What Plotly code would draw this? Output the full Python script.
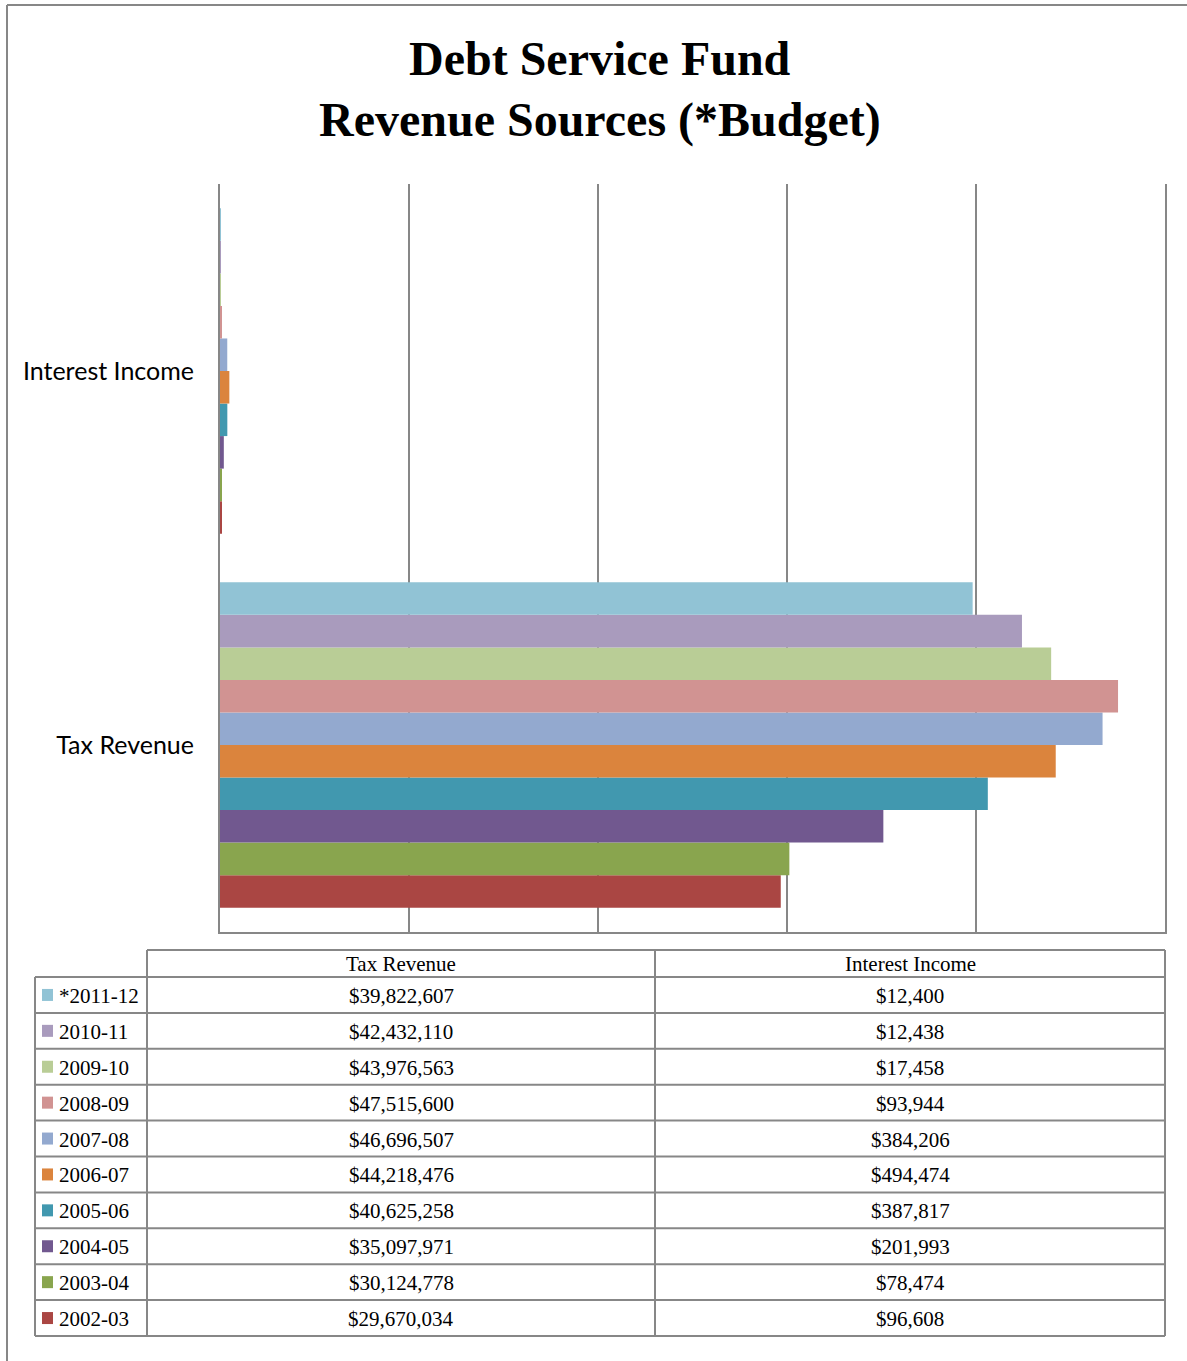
import plotly.graph_objects as go

# ---- data -------------------------------------------------------------
periods = ["2002-03", "2003-04", "2004-05", "2005-06", "2006-07",
           "2007-08", "2008-09", "2009-10", "2010-11", "*2011-12"]
tax_revenue = [29670034, 30124778, 35097971, 40625258, 44218476,
               46696507, 47515600, 43976563, 42432110, 39822607]
interest_income = [96608, 78474, 201993, 387817, 494474,
                   384206, 93944, 17458, 12438, 12400]
categories = ["Tax Revenue", "Interest Income"]
colors = ["#AA4643", "#89A54E", "#71588F", "#4198AF", "#DB843D",
          "#93A9CF", "#D19392", "#B9CD96", "#A99BBD", "#91C3D5"]

# ---- canvas helpers (pixel -> paper) ---------------------------------
W, H = 1187, 1361
def px(x):
    return x / W
def py(y):
    return 1 - y / H

GRID = "#878787"
SERIF = "Liberation Serif, Times New Roman, serif"
SANS = "Lato, Calibri, Carlito, sans-serif"

fig = go.Figure()
for name, t, i, c in zip(periods, tax_revenue, interest_income, colors):
    fig.add_trace(go.Bar(
        y=categories, x=[t, i], name=name, orientation="h",
        marker=dict(color=c, line=dict(width=0)),
        showlegend=False,
    ))

shapes = []
annotations = []

# outer chart border (left and top edges visible)
shapes.append(dict(type="line", xref="paper", yref="paper",
                   x0=px(7), x1=px(1190), y0=py(5), y1=py(5),
                   line=dict(color=GRID, width=2)))
shapes.append(dict(type="line", xref="paper", yref="paper",
                   x0=px(7), x1=px(7), y0=py(5), y1=py(1365),
                   line=dict(color=GRID, width=2)))

# title
annotations.append(dict(text="<b>Debt Service Fund</b>", xref="paper", yref="paper",
                        x=px(600), y=py(58), xanchor="center", yanchor="middle",
                        showarrow=False, font=dict(family=SERIF, size=48, color="black")))
annotations.append(dict(text="<b>Revenue Sources (*Budget)</b>", xref="paper", yref="paper",
                        x=px(600), y=py(120), xanchor="center", yanchor="middle",
                        showarrow=False, font=dict(family=SERIF, size=48, color="black")))

# ---- data table -------------------------------------------------------
tbl_left, col1, col2, tbl_right = 35, 147, 655, 1165
hdr_top, hdr_bot = 950, 977
row_h = (1336 - 977) / 10
line = dict(color=GRID, width=2)

shapes.append(dict(type="line", xref="paper", yref="paper",
                   x0=px(col1), x1=px(tbl_right), y0=py(hdr_top), y1=py(hdr_top), line=line))
for k in range(11):
    yy = hdr_bot + k * row_h
    shapes.append(dict(type="line", xref="paper", yref="paper",
                       x0=px(tbl_left), x1=px(tbl_right), y0=py(yy), y1=py(yy), line=line))
table_bottom = hdr_bot + 10 * row_h
shapes.append(dict(type="line", xref="paper", yref="paper",
                   x0=px(tbl_left), x1=px(tbl_left), y0=py(hdr_bot), y1=py(table_bottom), line=line))
for xx in (col1, col2, tbl_right):
    shapes.append(dict(type="line", xref="paper", yref="paper",
                       x0=px(xx), x1=px(xx), y0=py(hdr_top), y1=py(table_bottom), line=line))

tfont = dict(family=SERIF, size=21, color="black")
col_centers = [(col1 + col2) / 2, (col2 + tbl_right) / 2]
for cat, cx in zip(["Tax Revenue", "Interest Income"], col_centers):
    annotations.append(dict(text=cat, xref="paper", yref="paper", x=px(cx),
                            y=py((hdr_top + hdr_bot) / 2 + 1), xanchor="center",
                            yanchor="middle", showarrow=False, font=tfont))

# rows listed newest first
for r, idx in enumerate(reversed(range(len(periods)))):
    cy = hdr_bot + (r + 0.5) * row_h
    shapes.append(dict(type="rect", xref="paper", yref="paper",
                       x0=px(42), x1=px(53), y0=py(cy - 6), y1=py(cy + 6),
                       fillcolor=colors[idx], line=dict(width=0)))
    annotations.append(dict(text=periods[idx], xref="paper", yref="paper",
                            x=px(57), y=py(cy + 1), xanchor="left", yanchor="middle",
                            showarrow=False, font=tfont))
    for val, cx in zip([tax_revenue[idx], interest_income[idx]], col_centers):
        annotations.append(dict(text=f"${val:,}", xref="paper", yref="paper",
                                x=px(cx), y=py(cy + 1), xanchor="center",
                                yanchor="middle", showarrow=False, font=tfont))

fig.update_layout(
    width=W, height=H,
    margin=dict(l=0, r=0, t=0, b=0),
    paper_bgcolor="white", plot_bgcolor="white",
    barmode="group", bargap=0.13, bargroupgap=0,
    showlegend=False,
    xaxis=dict(domain=[px(220), px(1165)], range=[0, 50e6], dtick=10e6,
               showticklabels=False, showgrid=True, gridcolor=GRID, gridwidth=2,
               zeroline=False, showline=True, linecolor=GRID, linewidth=2,
               ticks="", fixedrange=True),
    yaxis=dict(domain=[py(932), py(184)], type="category",
               categoryorder="array", categoryarray=categories,
               showline=True, linecolor=GRID, linewidth=2, mirror=True,
               ticks="", ticklabelstandoff=19,
               tickfont=dict(family=SANS, size=25, color="black"),
               showgrid=False, fixedrange=True),
    shapes=shapes,
    annotations=annotations,
)

fig.write_html("out.html")
